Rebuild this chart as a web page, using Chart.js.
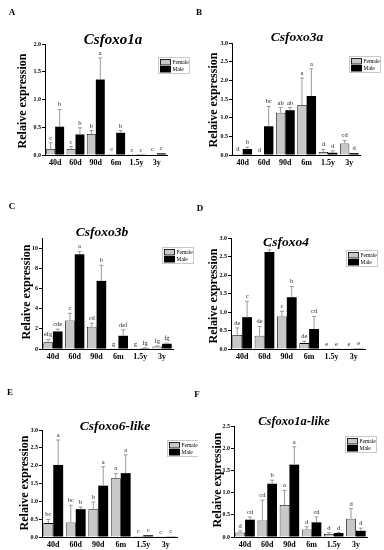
<!DOCTYPE html>
<html>
<head>
<meta charset="utf-8">
<script src="https://cdn.jsdelivr.net/npm/chart.js@4.4.0/dist/chart.umd.min.js"></script>
<style>
  body { margin: 0; background: #fff; }
  #page { position: relative; width: 384px; height: 550px; overflow: hidden; background: #fff; }
  .panel { position: absolute; }
</style>
</head>
<body>
<div id="page"></div>
<script>
// Sampling ages (x categories)
const groups = ['40d', '60d', '90d', '6m', '1.5y', '3y'];

// Csfoxo1a
const foxo1aFemale = [0.11, 0.11, 0.38, 0.02, 0.005, 0.01];
const foxo1aFemaleErr = [0.11, 0.04, 0.06, 0.0, 0.0, 0.0];
const foxo1aFemaleSig = ['c', 'c', 'b', 'c', 'c', 'c'];
const foxo1aMale = [0.51, 0.37, 1.36, 0.40, 0.005, 0.03];
const foxo1aMaleErr = [0.31, 0.12, 0.39, 0.04, 0.0, 0.0];
const foxo1aMaleSig = ['b', 'b', 'a', 'b', 'c', 'c'];

// Csfoxo3a
const foxo3aFemale = [0.02, 0.0, 1.13, 1.34, 0.08, 0.31];
const foxo3aFemaleErr = [0.0, 0.0, 0.14, 0.72, 0.07, 0.08];
const foxo3aFemaleSig = ['d', 'd', 'ab', 'a', 'd', 'cd'];
const foxo3aMale = [0.16, 0.77, 1.20, 1.58, 0.06, 0.05];
const foxo3aMaleErr = [0.05, 0.53, 0.07, 0.73, 0.05, 0.0];
const foxo3aMaleSig = ['b', 'bc', 'ab', 'a', 'd', 'd'];

// Csfoxo3b
const foxo3bFemale = [0.66, 2.82, 2.20, 0.03, 0.02, 0.26];
const foxo3bFemaleErr = [0.30, 0.72, 0.36, 0.0, 0.0, 0.05];
const foxo3bFemaleSig = ['efg', 'c', 'cd', 'g', 'g', 'fg'];
const foxo3bMale = [1.74, 9.38, 6.75, 1.31, 0.08, 0.52];
const foxo3bMaleErr = [0.23, 0.29, 1.55, 0.59, 0.04, 0.05];
const foxo3bMaleSig = ['cde', 'a', 'b', 'def', 'fg', 'fg'];

// Csfoxo4
const foxo4Female = [0.38, 0.36, 0.88, 0.16, 0.01, 0.01];
const foxo4FemaleErr = [0.19, 0.25, 0.14, 0.05, 0.0, 0.0];
const foxo4FemaleSig = ['de', 'de', 'c', 'de', 'e', 'e'];
const foxo4Male = [0.86, 2.62, 1.40, 0.54, 0.01, 0.02];
const foxo4MaleErr = [0.43, 0.06, 0.29, 0.34, 0.0, 0.0];
const foxo4MaleSig = ['c', 'a', 'b', 'cd', 'e', 'e'];

// Csfoxo6-like
const foxo6Female = [0.39, 0.41, 0.78, 1.65, 0.03, 0.01];
const foxo6FemaleErr = [0.10, 0.48, 0.20, 0.13, 0.0, 0.0];
const foxo6FemaleSig = ['bc', 'bc', 'b', 'a', 'c', 'c'];
const foxo6Male = [2.02, 0.78, 1.44, 1.79, 0.05, 0.02];
const foxo6MaleErr = [0.70, 0.06, 0.53, 0.51, 0.0, 0.0];
const foxo6MaleSig = ['a', 'b', 'a', 'a', 'c', 'c'];

// Csfoxo1a-like
const foxo1aLikeFemale = [0.10, 0.37, 0.72, 0.17, 0.07, 0.41];
const foxo1aLikeFemaleErr = [0.04, 0.46, 0.33, 0.06, 0.03, 0.23];
const foxo1aLikeFemaleSig = ['d', 'cd', 'a', 'd', 'd', 'd'];
const foxo1aLikeMale = [0.39, 1.20, 1.63, 0.33, 0.09, 0.14];
const foxo1aLikeMaleErr = [0.06, 0.08, 0.40, 0.12, 0.01, 0.06];
const foxo1aLikeMaleSig = ['cd', 'b', 'a', 'cd', 'd', 'd'];

const SERIF = '"Liberation Serif", "DejaVu Serif", serif';

// draws error bars, letters, title, legend etc.
const decorPlugin = {
    id: 'decor',
    afterDatasetsDraw(chart) {
        const ctx = chart.ctx;
        const y = chart.scales.y;
        ctx.save();
        chart.data.datasets.forEach((ds, i) => {
            const meta = chart.getDatasetMeta(i);
            meta.data.forEach((bar, j) => {
                const top = y.getPixelForValue(ds.data[j] + ds.err[j]);
                if (ds.err[j] > 0) {
                    ctx.strokeStyle = '#9a9a9a';
                    ctx.lineWidth = 1;
                    ctx.beginPath();
                    ctx.moveTo(bar.x, bar.y);
                    ctx.lineTo(bar.x, top);
                    ctx.moveTo(bar.x - 2, top);
                    ctx.lineTo(bar.x + 2, top);
                    ctx.stroke();
                }
                ctx.fillStyle = '#222';
                ctx.font = '6.5px ' + SERIF;
                ctx.textAlign = 'center';
                ctx.textBaseline = 'bottom';
                ctx.fillText(ds.sig[j], bar.x, top - 1.5);
            });
        });
        ctx.restore();
    },
    afterDraw(chart) {
        const o = chart.options.plugins.decor;
        const ctx = chart.ctx;
        const bx = o.box.l, by = o.box.t;
        ctx.save();
        ctx.fillStyle = '#000';
        // panel letter
        ctx.font = 'bold 9px ' + SERIF;
        ctx.textAlign = 'center';
        ctx.textBaseline = 'middle';
        ctx.fillText(o.letter, o.letterX - bx, o.letterY - by);
        // title
        ctx.font = 'bold italic ' + o.titleSize + 'px ' + SERIF;
        ctx.fillText(o.title, o.titleX - bx, o.titleY - by);
        // y title
        ctx.save();
        ctx.translate(o.yTitleX - bx, o.yTitleY - by);
        ctx.rotate(-Math.PI / 2);
        ctx.font = 'bold 12px ' + SERIF;
        ctx.fillText('Relaive expression', 0, 0);
        ctx.restore();
        // legend
        const lx = o.legendX - bx, ly = o.legendY - by;
        ctx.strokeStyle = '#bbb';
        ctx.lineWidth = 0.8;
        ctx.strokeRect(lx + 0.5, ly + 0.5, 31, 16);
        ctx.fillStyle = '#c8c8c8';
        ctx.fillRect(lx + 2, ly + 2, 11, 6);
        ctx.strokeStyle = '#000';
        ctx.strokeRect(lx + 2.5, ly + 2.5, 10, 5.5);
        ctx.fillStyle = '#000';
        ctx.fillRect(lx + 2, ly + 9, 11, 6.5);
        ctx.font = '5.5px ' + SERIF;
        ctx.textAlign = 'left';
        ctx.fillText('Female', lx + 14.5, ly + 5.5);
        ctx.fillText('Male', lx + 14.5, ly + 12.5);
        ctx.restore();
    }
};

function makePanel(layout, female, femaleErr, femaleSig, male, maleErr, maleSig) {
    const div = document.createElement('div');
    div.className = 'panel';
    div.style.left = layout.box.l + 'px';
    div.style.top = layout.box.t + 'px';
    div.style.width = layout.box.w + 'px';
    div.style.height = layout.box.h + 'px';
    const canvas = document.createElement('canvas');
    canvas.width = layout.box.w;
    canvas.height = layout.box.h;
    div.appendChild(canvas);
    document.getElementById('page').appendChild(div);

    const yW = 20, xH = 16;
    const a = layout.area, b = layout.box;

    new Chart(canvas, {
        type: 'bar',
        data: {
            labels: groups,
            datasets: [
                {
                    label: 'Female', data: female, err: femaleErr, sig: femaleSig,
                    backgroundColor: '#c8c8c8', borderColor: '#000', borderWidth: 0.8,
                    barPercentage: 1.0, categoryPercentage: 0.88
                },
                {
                    label: 'Male', data: male, err: maleErr, sig: maleSig,
                    backgroundColor: '#000', borderColor: '#000', borderWidth: 0,
                    barPercentage: 1.0, categoryPercentage: 0.88
                }
            ]
        },
        options: {
            responsive: false,
            animation: false,
            devicePixelRatio: 1,
            layout: {
                padding: {
                    left: a.l - b.l - yW,
                    top: a.t - b.t,
                    right: b.l + b.w - a.r,
                    bottom: b.t + b.h - a.b - xH
                }
            },
            scales: {
                x: {
                    grid: { display: false, drawTicks: false },
                    border: { display: true, color: '#000', width: 1 },
                    ticks: {
                        font: { family: SERIF, size: 8, weight: 'bold' },
                        color: '#000', padding: 3, maxRotation: 0, autoSkip: false
                    },
                    afterFit(s) { s.height = xH; }
                },
                y: {
                    min: 0,
                    max: layout.yMax,
                    grid: { drawOnChartArea: false, drawTicks: true, tickLength: 3, color: '#000' },
                    border: { display: true, color: '#000', width: 1 },
                    ticks: {
                        stepSize: layout.yStep,
                        includeBounds: false,
                        font: { family: SERIF, size: 6, weight: 'bold' },
                        color: '#000', padding: 1,
                        callback: v => v.toFixed(layout.dec)
                    },
                    afterFit(s) { s.width = yW; }
                }
            },
            plugins: {
                legend: { display: false },
                tooltip: { enabled: false },
                decor: layout
            }
        },
        plugins: [decorPlugin]
    });
}

makePanel({
    box: { l: 0, t: 0, w: 192, h: 178 }, area: { l: 45, t: 44, r: 167, b: 155 },
    yMax: 2, yStep: 0.5, dec: 1,
    title: 'Csfoxo1a', titleX: 113, titleY: 40, titleSize: 15,
    yTitleX: 23, yTitleY: 101, legendX: 158, legendY: 57,
    letter: 'A', letterX: 12, letterY: 13
}, foxo1aFemale, foxo1aFemaleErr, foxo1aFemaleSig, foxo1aMale, foxo1aMaleErr, foxo1aMaleSig);

makePanel({
    box: { l: 192, t: 0, w: 192, h: 178 }, area: { l: 232, t: 43, r: 360, b: 155 },
    yMax: 3, yStep: 0.5, dec: 1,
    title: 'Csfoxo3a', titleX: 297, titleY: 38, titleSize: 13.5,
    yTitleX: 214, yTitleY: 100, legendX: 349, legendY: 56,
    letter: 'B', letterX: 199, letterY: 13
}, foxo3aFemale, foxo3aFemaleErr, foxo3aFemaleSig, foxo3aMale, foxo3aMaleErr, foxo3aMaleSig);

makePanel({
    box: { l: 0, t: 180, w: 196, h: 192 }, area: { l: 42, t: 238, r: 173, b: 349 },
    yMax: 11, yStep: 2, dec: 0,
    title: 'Csfoxo3b', titleX: 102, titleY: 233, titleSize: 13.5,
    yTitleX: 27, yTitleY: 292, legendX: 162, legendY: 247,
    letter: 'C', letterX: 12, letterY: 207
}, foxo3bFemale, foxo3bFemaleErr, foxo3bFemaleSig, foxo3bMale, foxo3bMaleErr, foxo3bMaleSig);

makePanel({
    box: { l: 192, t: 180, w: 192, h: 192 }, area: { l: 231, t: 238, r: 365, b: 349 },
    yMax: 3, yStep: 0.5, dec: 1,
    title: 'Csfoxo4', titleX: 286, titleY: 243, titleSize: 13.5,
    yTitleX: 214, yTitleY: 296, legendX: 346, legendY: 250,
    letter: 'D', letterX: 200, letterY: 209
}, foxo4Female, foxo4FemaleErr, foxo4FemaleSig, foxo4Male, foxo4MaleErr, foxo4MaleSig);

makePanel({
    box: { l: 0, t: 360, w: 198, h: 200 }, area: { l: 42, t: 430, r: 177, b: 537 },
    yMax: 3, yStep: 0.5, dec: 1,
    title: 'Csfoxo6-like', titleX: 115, titleY: 427, titleSize: 13.5,
    yTitleX: 25, yTitleY: 483, legendX: 167, legendY: 440,
    letter: 'E', letterX: 10, letterY: 393
}, foxo6Female, foxo6FemaleErr, foxo6FemaleSig, foxo6Male, foxo6MaleErr, foxo6MaleSig);

makePanel({
    box: { l: 192, t: 360, w: 192, h: 200 }, area: { l: 234, t: 426, r: 367, b: 537 },
    yMax: 2.5, yStep: 0.5, dec: 1,
    title: 'Csfoxo1a-like', titleX: 294, titleY: 422, titleSize: 12.5,
    yTitleX: 218, yTitleY: 480, legendX: 345, legendY: 436,
    letter: 'F', letterX: 197, letterY: 395
}, foxo1aLikeFemale, foxo1aLikeFemaleErr, foxo1aLikeFemaleSig, foxo1aLikeMale, foxo1aLikeMaleErr, foxo1aLikeMaleSig);
</script>
</body>
</html>
